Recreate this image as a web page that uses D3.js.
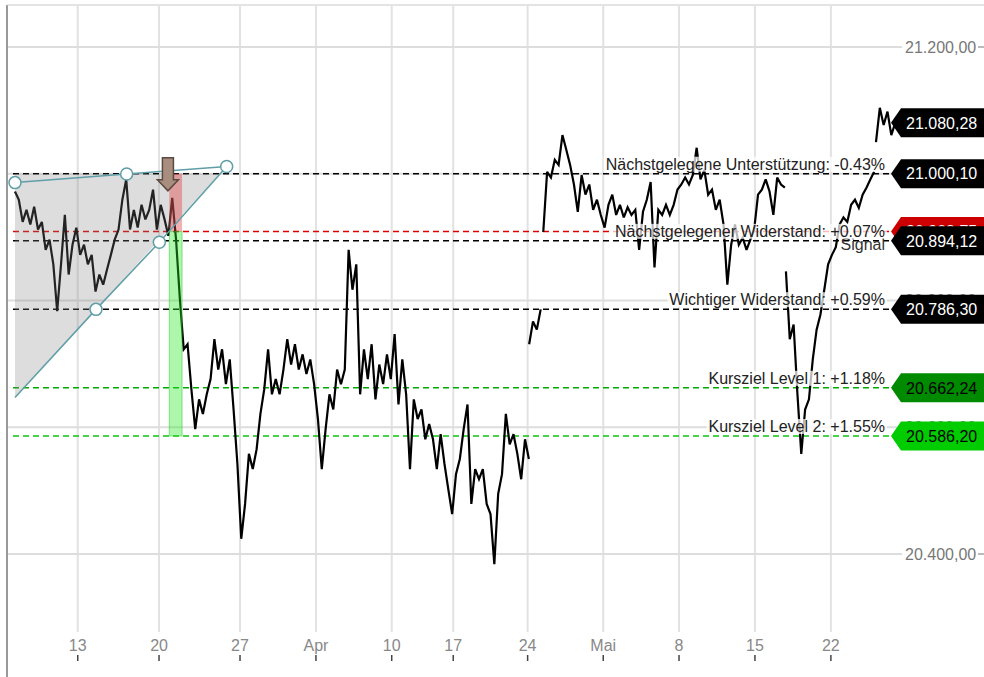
<!DOCTYPE html>
<html lang="de">
<head>
<meta charset="UTF-8">
<title>Kursverlauf mit Chartmuster</title>
<script src="https://cdnjs.cloudflare.com/ajax/libs/d3/7.8.5/d3.min.js"></script>
<style>
    html, body { margin: 0; padding: 0; background: #fff; }
    svg { display: block; font-family: "Liberation Sans", Arial, sans-serif; }
</style>
</head>
<body>
<svg id="chart" width="984" height="677"></svg>
<script>
// x axis: trading-day index, tick labels sit at these day positions
const tickLabels = ["13", "20", "27", "Apr", "10", "17", "24", "Mai", "8", "15", "22"];
const tickDays = [0.02, 5.32, 10.6, 15.55, 20.49, 24.5, 29.35, 34.28, 39.22, 44.17, 49.12];

const priceGrid = [21200, 21000, 20800, 20600, 20400];

// price series, one value every quarter day, split where the chart has gaps
const step = 0.25;
const segStarts = [-4.07, 29.45, 30.37, 46.19, 52.06];
const segA = [
    20972, 20959, 20924, 20943, 20920, 20948, 20912, 20924, 20880, 20896,
    20857, 20783, 20857, 20935, 20841, 20888, 20915, 20872, 20888, 20857,
    20872, 20814, 20841, 20825, 20849, 20872, 20896, 20912, 20959, 20991,
    20912, 20943, 20915, 20951, 20928, 20943, 20975, 20912, 20951, 20928,
    20902, 20962, 20896, 20802, 20723, 20731, 20660, 20597, 20644, 20621,
    20652, 20676, 20739, 20691, 20723, 20668, 20707, 20628, 20542, 20424,
    20479, 20558, 20534, 20565, 20621, 20660, 20723, 20652, 20676, 20652,
    20691, 20739, 20699, 20731, 20691, 20715, 20684, 20707, 20668, 20613,
    20534, 20597, 20652, 20628, 20691, 20668, 20691, 20880, 20817, 20857,
    20652, 20723, 20676, 20731, 20644, 20699, 20668, 20715, 20676, 20747,
    20636, 20707, 20652, 20534, 20644, 20613, 20628, 20581, 20605, 20581,
    20534, 20589, 20542, 20502, 20463, 20526, 20550, 20597, 20636, 20479,
    20534, 20518, 20534, 20479, 20463, 20384, 20495, 20526, 20621, 20573,
    20589, 20558, 20518, 20581, 20550
];
const segB = [20731, 20767, 20754, 20786];
const segC = [
    20908, 21003, 20994, 21022, 21014, 21061, 21038, 21014, 20983, 20940,
    20998, 20967, 20983, 20943, 20959, 20935, 20915, 20951, 20967, 20935,
    20951, 20931, 20947, 20935, 20943, 20880, 20940, 20959, 20987, 20852,
    20943, 20935, 20951, 20935, 20951, 20975, 20983, 20994, 20983, 20998,
    21041, 20991, 21006, 20967, 20975, 20943, 20959, 20920, 20825, 20888,
    20920, 20888, 20899, 20880, 20896, 20912, 20967, 20975, 20991, 20972,
    20935, 20994, 20983, 20978
];
const segD = [
    20846, 20739, 20762, 20652, 20558, 20628, 20644, 20707, 20754, 20778,
    20817, 20857, 20872, 20884, 20920, 20931, 20924, 20951, 20959, 20946,
    20967, 20978, 20991, 21003
];
const segE = [21050, 21104, 21077, 21098, 21061, 21080];
const lastPrice = 21080.28;

// marked levels
const levelValues = [21000.10, 20908.75, 20894.12, 20786.30, 20662.24, 20586.20];
const levelNames = [
    "Nächstgelegene Unterstützung: -0.43%",
    "Signal",
    "Nächstgelegener Widerstand: +0.07%",
    "Wichtiger Widerstand: +0.59%",
    "Kursziel Level 1: +1.18%",
    "Kursziel Level 2: +1.55%"
];
const lineColors = ["#000", "#e00000", "#000", "#000", "#00aa00", "#11c411"];
const tagColors = ["#000", "#cc0000", "#000", "#000", "#008a00", "#00cc00"];
const tagTextColors = ["#fff", "#fff", "#fff", "#fff", "#000", "#000"];

// triangle pattern (day, price)
const wedgeTop = [[-4.07, 20986], [3.21, 20999.5], [9.73, 21011.5]];
const wedgeBottom = [[-4.07, 20647], [1.21, 20786], [5.34, 20892], [9.73, 21011.5]];
const wedgeArea = [[-4.07, 21000], [9.29, 21000], [-4.07, 20647]];
const wedgeHandles = [[-4.07, 20986], [3.21, 20999.5], [9.73, 21011.5], [5.34, 20892], [1.21, 20786]];

// signal
const signalDays = [5.99, 6.82];
const arrowDay = 5.9;
const arrowPrice = 20973;

const W = 984, H = 677;
const fmt = d3.formatLocale({ decimal: ",", thousands: ".", grouping: [3], currency: ["", ""] }).format(",.2f");

const x = d3.scaleLinear().domain([-4.2, 53.3]).range([13, 895]);
const y = d3.scaleLinear().domain([20400, 21200]).range([554, 47]);
const tagTip = 891;

const svg = d3.select("#chart");

// frame
svg.append("line").attr("x1", 7).attr("x2", 7).attr("y1", 5).attr("y2", H)
    .attr("stroke", "#999").attr("stroke-width", 2);
svg.append("line").attr("x1", 7).attr("x2", W).attr("y1", 5).attr("y2", 5)
    .attr("stroke", "#c8c8c8").attr("stroke-width", 1);

// vertical grid
svg.append("g").selectAll("line").data(tickDays).join("line")
    .attr("x1", d => x(d)).attr("x2", d => x(d))
    .attr("y1", 6).attr("y2", 632)
    .attr("stroke", "#e2e2e2").attr("stroke-width", 2);

// horizontal grid + right labels
const gridG = svg.append("g");
gridG.selectAll("line.g").data(priceGrid).join("line").attr("class", "g")
    .attr("x1", 8).attr("x2", 902)
    .attr("y1", d => y(d)).attr("y2", d => y(d))
    .attr("stroke", "#ddd").attr("stroke-width", 2);
gridG.selectAll("line.t").data(priceGrid).join("line").attr("class", "t")
    .attr("x1", 978).attr("x2", 984)
    .attr("y1", d => y(d)).attr("y2", d => y(d))
    .attr("stroke", "#777").attr("stroke-width", 1);
gridG.selectAll("text").data(priceGrid).join("text")
    .attr("x", 905).attr("y", d => y(d)).attr("dy", "0.35em")
    .attr("fill", "#777").attr("font-size", 16)
    .text(d => fmt(d));

// level lines
svg.append("g").selectAll("line").data(levelValues).join("line")
    .attr("x1", x.range()[0]).attr("x2", tagTip)
    .attr("y1", d => y(d)).attr("y2", d => y(d))
    .attr("stroke", (d, i) => lineColors[i])
    .attr("stroke-width", 1.5)
    .attr("stroke-dasharray", "6,4");

// price line
const line = d3.line().x(d => x(d[0])).y(d => y(d[1]));
[segA, segB, segC, segD, segE].forEach((vals, i) => {
    const pts = vals.map((v, j) => [segStarts[i] + j * step, v]);
    svg.append("path")
        .attr("d", line(pts))
        .attr("fill", "none")
        .attr("stroke", "#000")
        .attr("stroke-width", 2.2)
        .attr("stroke-linejoin", "miter")
        .attr("stroke-miterlimit", 3);
});

// pattern area
svg.append("path")
    .attr("d", line(wedgeArea) + "Z")
    .attr("fill", "rgba(128,128,128,0.27)");

// signal zones
const sx0 = x(signalDays[0]), sx1 = x(signalDays[1]);
svg.append("rect")
    .attr("x", sx0).attr("width", sx1 - sx0)
    .attr("y", y(levelValues[0])).attr("height", y(levelValues[1]) - y(levelValues[0]))
    .attr("fill", "rgba(225,60,60,0.4)");
svg.append("rect")
    .attr("x", sx0).attr("width", sx1 - sx0)
    .attr("y", y(levelValues[1])).attr("height", y(levelValues[5]) - y(levelValues[1]))
    .attr("fill", "rgba(40,235,40,0.38)")
    .attr("stroke", "rgba(40,200,40,0.5)");

// pattern lines and handles
const teal = "#5f9ea8";
[wedgeTop, wedgeBottom].forEach(pts => {
    svg.append("path").attr("d", line(pts))
        .attr("fill", "none").attr("stroke", teal).attr("stroke-width", 1.5);
});
svg.append("g").selectAll("circle").data(wedgeHandles).join("circle")
    .attr("cx", d => x(d[0])).attr("cy", d => y(d[1])).attr("r", 6)
    .attr("fill", "#fff").attr("stroke", teal).attr("stroke-width", 1.5);

// signal arrow
const ax = x(arrowDay), ay = y(arrowPrice);
svg.append("path")
    .attr("d", `M${ax - 5.5},${ay - 33} L${ax + 5.5},${ay - 33} L${ax + 5.5},${ay - 11} L${ax + 10.5},${ay - 11} L${ax},${ay} L${ax - 10.5},${ay - 11} L${ax - 5.5},${ay - 11} Z`)
    .attr("fill", "#a98e80").attr("stroke", "#5a4a42").attr("stroke-width", 1.5);

// level labels
const labelG = svg.append("g").attr("font-size", 16);
levelValues.forEach((v, i) => {
    const isSignal = levelNames[i] === "Signal";
    const g = labelG.append("g");
    const t = g.append("text")
        .attr("x", 885)
        .attr("y", isSignal ? y(v) + 18 : y(v) - 4)
        .attr("text-anchor", "end")
        .attr("fill", isSignal ? "#333" : "#222")
        .text(levelNames[i]);
    if (!isSignal) {
        const b = t.node().getBBox();
        g.insert("rect", "text")
            .attr("x", b.x - 2).attr("y", b.y + 1)
            .attr("width", b.width + 4).attr("height", b.height - 2)
            .attr("fill", "rgba(255,255,255,0.72)");
    }
});

// price tags on the right
const tags = levelValues.map((v, i) => ({ v, bg: tagColors[i], fg: tagTextColors[i] }));
tags.push({ v: lastPrice, bg: "#000", fg: "#fff" });
const tagG = svg.append("g").attr("font-size", 16);
tags.forEach(d => {
    const yc = y(d.v), h = 14.5;
    tagG.append("path")
        .attr("d", `M${tagTip},${yc} L${tagTip + 10},${yc - h} L${W},${yc - h} L${W},${yc + h} L${tagTip + 10},${yc + h} Z`)
        .attr("fill", d.bg);
    tagG.append("text")
        .attr("x", 906).attr("y", yc).attr("dy", "0.36em")
        .attr("fill", d.fg)
        .text(fmt(d.v));
});

// x axis labels and ticks
const axisG = svg.append("g");
axisG.selectAll("text").data(tickDays).join("text")
    .attr("x", d => x(d)).attr("y", 651)
    .attr("text-anchor", "middle")
    .attr("font-size", 16).attr("fill", "#888")
    .text((d, i) => tickLabels[i]);
axisG.selectAll("line").data(tickDays).join("line")
    .attr("x1", d => x(d)).attr("x2", d => x(d))
    .attr("y1", 655).attr("y2", 661)
    .attr("stroke", "#444").attr("stroke-width", 1.5);
</script>
</body>
</html>
